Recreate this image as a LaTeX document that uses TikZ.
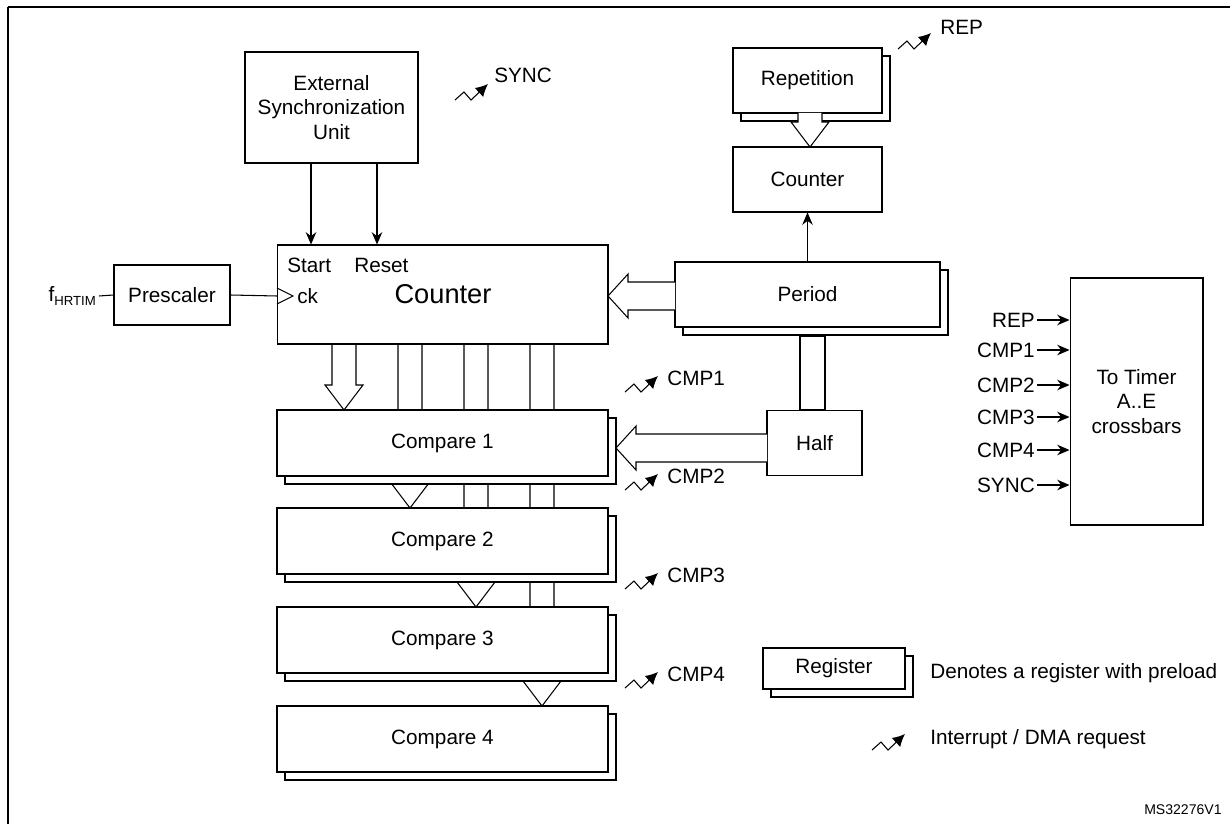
\documentclass[tikz,border=0pt]{standalone}
\usepackage{fontspec}
\setmainfont{Liberation Sans}
\usetikzlibrary{arrows.meta,positioning}
\tikzset{
    every path/.style={semithick},
    block/.style={draw,fill=white,inner sep=0pt,font=\fontsize{11.8}{14}\selectfont,align=center},
    shadow/.style={draw,fill=white},
    pre/.style={-{Stealth[length=7pt,width=6pt]},semithick},
    fat/.style={draw,fill=white},
    lbl/.style={font=\fontsize{11.8}{14}\selectfont,inner sep=1pt}
}
% register with preload: box plus shifted copy behind it
\newcommand{\preload}[5]{%
    \draw[shadow] (#2+8,#3+8) rectangle (#4+8,#5+8);
    \node[block,minimum width={(#4-#2)*0.02cm},minimum height={(#5-#3)*0.02cm}] (#1) at ({(#2+#4)/2},{(#3+#5)/2}) {};
}
% fat downward arrow: x centre, top, tip
\newcommand{\fatdown}[3]{%
    \draw[fat] (#1-12,#2) -- (#1-12,#3-25) -- (#1-19,#3-25) -- (#1,#3) -- (#1+19,#3-25) -- (#1+12,#3-25) -- (#1+12,#2);
}
% fat leftward arrow: y centre, right end, tip
\newcommand{\fatleft}[3]{%
    \draw[fat] (#2,#1-14) -- (#3+20,#1-14) -- (#3+20,#1-22) -- (#3,#1) -- (#3+20,#1+22) -- (#3+20,#1+14) -- (#2,#1+14);
}
% interrupt / DMA request symbol
\newcommand{\irq}[2]{%
    \draw[semithick,-{Latex[length=7pt,width=7pt]}] (#1,#2+8) -- (#1+9,#2) -- (#1+16,#2+8) -- (#1+33,#2-8);
}
\begin{document}
\begin{tikzpicture}[x=0.02cm,y=-0.02cm]
    \useasboundingbox (0,0) rectangle (1230,824);
    \draw[line width=1.2pt] (8,7) -- (8,840) (8,7) -- (1240,7);

    % bus arrows behind the compare registers
    \fatdown{344}{344}{410}
    \fatdown{410}{344}{508}
    \fatdown{476}{344}{607}
    \fatdown{542}{344}{706}
    \draw[fat] (800,336) rectangle (825,410);

    % blocks
    \node[block,minimum width=3.46cm,minimum height=2.22cm] (sync) at (331.5,107.5) {External\\Synchronization\\Unit};
    \preload{rep}{733}{48}{882}{113}
    \node[lbl] at (rep) {Repetition};
    \fatdown{810}{113}{147}
    \node[block,minimum width=2.98cm,minimum height=1.3cm] (repcnt) at (807.5,179.5) {Counter};
    \node[block,minimum width=6.62cm,minimum height=1.98cm] (counter) at (442.5,294.5) {};
    \node[font=\fontsize{15.5}{18}\selectfont] (cntlbl) at (443,294) {Counter};
    \node[lbl,anchor=west] (start) at (285,265) {Start};
    \node[lbl,anchor=west] (reset) at (352,265) {Reset};
    \node[lbl,anchor=west] (ck) at (295,296) {ck};
    \draw (277,288) -- (293,296) -- (277,304);
    \node[block,minimum width=2.32cm,minimum height=1.2cm] (presc) at (172,295) {Prescaler};
    \node[lbl,anchor=east] (fclk) at (99,296) {f\textsubscript{\fontsize{7.5}{8}\selectfont HRTIM}};
    \preload{period}{675}{262}{940}{327}
    \node[lbl] at (period) {Period};
    \node[block,minimum width=1.9cm,minimum height=1.3cm] (half) at (814.5,443) {Half};
    \foreach \i/\yt in {1/410,2/508,3/607,4/706}{
        \preload{cmp\i}{277}{\yt}{608}{\yt+66}
        \node[lbl] at (cmp\i) {Compare \i};
        \irq{625}{\yt-26}
        \node[lbl,anchor=west] at (665,\yt-32) {CMP\i};
    }
    \node[block,minimum width=2.66cm,minimum height=4.94cm] (xbar) at (1136.5,401.5) {To Timer\\A..E\\crossbars};

    % connectors
    \draw[pre] (sync.south -| 311,0) -- (counter.north -| 311,0);
    \draw[pre] (sync.south -| 377,0) -- (counter.north -| 377,0);
    \draw[pre] (period.north -| repcnt.south) -- (repcnt.south);
    \draw (fclk.east) -- (presc.west);
    \draw (presc.east) -- (277,296);
    \fatleft{296}{675}{608}
    \fatleft{448}{767}{616}

    % interrupts
    \irq{455}{92}
    \node[lbl,anchor=west] (synclbl) at (492,75) {SYNC};
    \irq{898}{41}
    \node[lbl,anchor=west] (replbl) at (938,27) {REP};

    % crossbar inputs
    \foreach \t/\y in {REP /320,CMP1/350,CMP2/385,CMP3/417,CMP4/450,SYNC/485}{
        \node[lbl,anchor=east] (in\y) at (1037,\y) {\t};
        \draw[pre] (in\y.east) -- (xbar.west |- in\y.east);
    }

    % legend
    \preload{legreg}{763}{648}{905}{689}
    \node[lbl] at (legreg) {Register};
    \node[lbl,anchor=west] at (928,673) {Denotes a register with preload};
    \irq{872}{742}
    \node[lbl,anchor=west] at (928,739) {Interrupt / DMA request};
    \node[font=\fontsize{8}{9}\selectfont,anchor=east] at (1228,810) {MS32276V1};
\end{tikzpicture}
\end{document}
